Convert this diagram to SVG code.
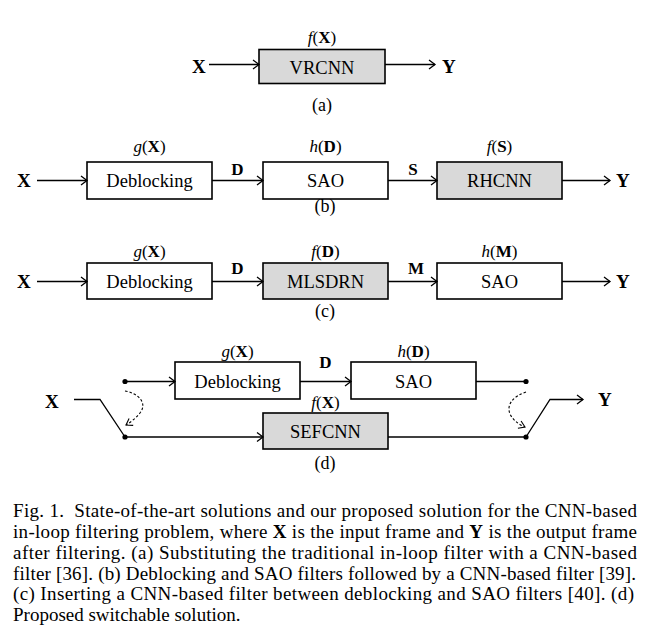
<svg xmlns="http://www.w3.org/2000/svg" width="654" height="642" viewBox="0 0 654 642">
<style>
  text { font-family: "Liberation Serif", "Times New Roman", serif; fill: #000; }
  .box { fill: #fff; stroke: #000; stroke-width: 1.6; }
  .gray { fill: #d9d9d9; }
  .lbl { font-size: 18.5px; text-anchor: middle; }
  .var { font-size: 19px; font-weight: bold; }
  .fn { font-size: 17px; text-anchor: middle; }
  .it { font-style: italic; }
  .b { font-weight: bold; }
  .sub { font-size: 18px; text-anchor: middle; }
  .cap { font-size: 19px; }
  .wire { fill: none; stroke: #000; stroke-width: 1.3; }
  .dash { fill: none; stroke: #000; stroke-width: 1.1; stroke-dasharray: 2.5 2; }
  .dot { fill: #000; }
</style>
<defs>
  <marker id="arr" markerUnits="userSpaceOnUse" markerWidth="10" markerHeight="12" viewBox="0 0 10 12" refX="7" refY="6" orient="auto">
    <path d="M1,1.5 L7,6 L1,10.5" fill="none" stroke="#000" stroke-width="1.3"/>
  </marker>
  <marker id="arrs" markerUnits="userSpaceOnUse" markerWidth="10" markerHeight="12" viewBox="0 0 10 12" refX="7" refY="6" orient="auto">
    <path d="M1,2 L7,6 L1,10" fill="none" stroke="#000" stroke-width="1.1"/>
  </marker>
</defs>

<!-- (a) -->
<g id="a-vrcnn">
  <rect class="box gray" x="259" y="49.5" width="126" height="34"/>
  <text class="lbl" x="322" y="73.5">VRCNN</text>
  <text class="fn" x="322" y="43"><tspan class="it">f</tspan>(<tspan class="b">X</tspan>)</text>
</g>
<g id="a-labels">
  <text class="var" x="192" y="73">X</text>
  <text class="var" x="442" y="73">Y</text>
  <text class="sub" x="322" y="111">(a)</text>
</g>

<!-- (b) -->
<g id="b-deblocking">
  <rect class="box" x="87" y="162" width="125" height="37"/>
  <text class="lbl" x="149.5" y="187">Deblocking</text>
  <text class="fn" x="149.5" y="152"><tspan class="it">g</tspan>(<tspan class="b">X</tspan>)</text>
</g>
<g id="b-sao">
  <rect class="box" x="263" y="162" width="125" height="37"/>
  <text class="lbl" x="325.5" y="187">SAO</text>
  <text class="fn" x="325.5" y="152"><tspan class="it">h</tspan>(<tspan class="b">D</tspan>)</text>
</g>
<g id="b-rhcnn">
  <rect class="box gray" x="437" y="162" width="125" height="37"/>
  <text class="lbl" x="499.5" y="187">RHCNN</text>
  <text class="fn" x="499.5" y="152"><tspan class="it">f</tspan>(<tspan class="b">S</tspan>)</text>
</g>
<g id="b-labels">
  <text class="var" x="17" y="187">X</text>
  <text class="var" x="616" y="187">Y</text>
  <text class="var" x="237.5" y="175" text-anchor="middle" style="font-size:17px">D</text>
  <text class="var" x="413" y="175" text-anchor="middle" style="font-size:17px">S</text>
  <text class="sub" x="325" y="212">(b)</text>
</g>

<!-- (c) -->
<g id="c-deblocking">
  <rect class="box" x="87" y="263" width="125" height="36"/>
  <text class="lbl" x="149.5" y="288">Deblocking</text>
  <text class="fn" x="149.5" y="257"><tspan class="it">g</tspan>(<tspan class="b">X</tspan>)</text>
</g>
<g id="c-mlsdrn">
  <rect class="box gray" x="263" y="263" width="125" height="36"/>
  <text class="lbl" x="325.5" y="288">MLSDRN</text>
  <text class="fn" x="325.5" y="257"><tspan class="it">f</tspan>(<tspan class="b">D</tspan>)</text>
</g>
<g id="c-sao">
  <rect class="box" x="437" y="263" width="125" height="36"/>
  <text class="lbl" x="499.5" y="288">SAO</text>
  <text class="fn" x="499.5" y="257"><tspan class="it">h</tspan>(<tspan class="b">M</tspan>)</text>
</g>
<g id="c-labels">
  <text class="var" x="17" y="288">X</text>
  <text class="var" x="616" y="288">Y</text>
  <text class="var" x="237.5" y="274" text-anchor="middle" style="font-size:17px">D</text>
  <text class="var" x="416" y="274" text-anchor="middle" style="font-size:17px">M</text>
  <text class="sub" x="325" y="317">(c)</text>
</g>

<!-- (d) -->
<g id="d-deblocking">
  <rect class="box" x="175" y="362" width="125" height="37"/>
  <text class="lbl" x="237.5" y="388">Deblocking</text>
  <text class="fn" x="237.5" y="357"><tspan class="it">g</tspan>(<tspan class="b">X</tspan>)</text>
</g>
<g id="d-sao">
  <rect class="box" x="351" y="362" width="125" height="37"/>
  <text class="lbl" x="413.5" y="388">SAO</text>
  <text class="fn" x="413.5" y="357"><tspan class="it">h</tspan>(<tspan class="b">D</tspan>)</text>
</g>
<g id="d-sefcnn">
  <rect class="box gray" x="263" y="413" width="125" height="36"/>
  <text class="lbl" x="325.5" y="438">SEFCNN</text>
  <text class="fn" x="325.5" y="408"><tspan class="it">f</tspan>(<tspan class="b">X</tspan>)</text>
</g>
<g id="d-switches">
  <circle class="dot" cx="125" cy="381.5" r="2.6"/>
  <circle class="dot" cx="125" cy="437" r="2.6"/>
  <circle class="dot" cx="526" cy="381.5" r="2.6"/>
  <circle class="dot" cx="526" cy="437" r="2.6"/>
</g>
<g id="d-labels">
  <text class="var" x="45" y="408">X</text>
  <text class="var" x="598" y="406">Y</text>
  <text class="var" x="325.5" y="368" text-anchor="middle" style="font-size:17px">D</text>
  <text class="sub" x="325" y="469">(d)</text>
</g>

<g id="connectors">
  <!-- a -->
  <line class="wire" x1="209" y1="64.5" x2="259" y2="64.5" marker-end="url(#arr)"/>
  <line class="wire" x1="385" y1="64.5" x2="435" y2="64.5" marker-end="url(#arr)"/>
  <!-- b -->
  <line class="wire" x1="37" y1="180.5" x2="87" y2="180.5" marker-end="url(#arr)"/>
  <line class="wire" x1="212" y1="180.5" x2="263" y2="180.5" marker-end="url(#arr)"/>
  <line class="wire" x1="388" y1="180.5" x2="437" y2="180.5" marker-end="url(#arr)"/>
  <line class="wire" x1="562" y1="180.5" x2="610" y2="180.5" marker-end="url(#arr)"/>
  <!-- c -->
  <line class="wire" x1="37" y1="281.5" x2="87" y2="281.5" marker-end="url(#arr)"/>
  <line class="wire" x1="212" y1="281.5" x2="263" y2="281.5" marker-end="url(#arr)"/>
  <line class="wire" x1="388" y1="281.5" x2="437" y2="281.5" marker-end="url(#arr)"/>
  <line class="wire" x1="562" y1="281.5" x2="610" y2="281.5" marker-end="url(#arr)"/>
  <!-- d -->
  <polyline class="wire" points="74,399.5 100,399.5 125,437"/>
  <line class="wire" x1="125" y1="381.5" x2="175" y2="381.5" marker-end="url(#arr)"/>
  <line class="wire" x1="300" y1="381.5" x2="351" y2="381.5" marker-end="url(#arr)"/>
  <line class="wire" x1="476" y1="381.5" x2="526" y2="381.5"/>
  <line class="wire" x1="125" y1="437" x2="263" y2="437" marker-end="url(#arr)"/>
  <line class="wire" x1="388" y1="437" x2="526" y2="437"/>
  <polyline class="wire" points="526,437 550,399.5 583,399.5" marker-end="url(#arr)"/>
  <path class="dash" d="M125,391 C138,393 148,403 140,413 C136,418 131,422 126,425" marker-end="url(#arrs)"/>
  <path class="dash" d="M526,392 C514,396 506,404 510,414 C513,420 518,424 525,427" marker-end="url(#arrs)"/>
</g>

<g id="caption">
  <text class="cap" x="13" y="517" textLength="624" lengthAdjust="spacing" xml:space="preserve">Fig. 1.  State-of-the-art solutions and our proposed solution for the CNN-based</text>
  <text class="cap" x="13" y="538" textLength="624" lengthAdjust="spacing">in-loop filtering problem, where <tspan class="b">X</tspan> is the input frame and <tspan class="b">Y</tspan> is the output frame</text>
  <text class="cap" x="13" y="558.5" textLength="624" lengthAdjust="spacing">after filtering. (a) Substituting the traditional in-loop filter with a CNN-based</text>
  <text class="cap" x="13" y="579.5" textLength="623" lengthAdjust="spacing">filter [36]. (b) Deblocking and SAO filters followed by a CNN-based filter [39].</text>
  <text class="cap" x="13" y="600" textLength="621" lengthAdjust="spacing">(c) Inserting a CNN-based filter between deblocking and SAO filters [40]. (d)</text>
  <text class="cap" x="13" y="621">Proposed switchable solution.</text>
</g>
</svg>
